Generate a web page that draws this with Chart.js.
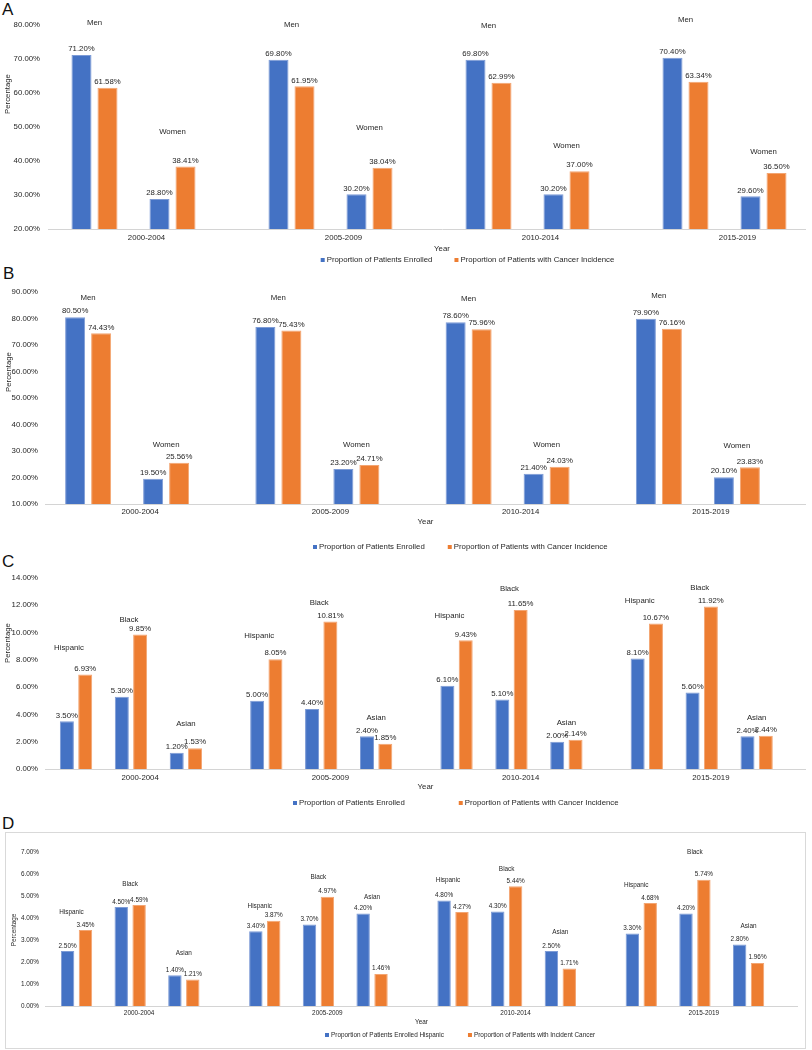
<!DOCTYPE html>
<html>
<head>
<meta charset="utf-8">
<script src="https://cdn.jsdelivr.net/npm/chart.js@4.4.1/dist/chart.umd.min.js"></script>
<style>
  html, body { margin: 0; padding: 0; background: #fff; overflow: hidden; }
  body { width: 812px; height: 1050px; position: relative; font-family: "Liberation Sans", Arial, sans-serif; }
  .panel { position: absolute; left: 0; overflow: hidden; }
  .tag { position: absolute; font-size: 17px; line-height: 17px; color: #111; }
  #frameD { position: absolute; left: 5px; top: 832px; width: 801px; height: 217px; border: 1px solid #d9d9d9; box-sizing: border-box; }
</style>
</head>
<body>
<div class="tag" style="left:2px;top:1px">A</div>
<div class="tag" style="left:3px;top:265px">B</div>
<div class="tag" style="left:2px;top:553px">C</div>
<div class="tag" style="left:2px;top:815px">D</div>
<div id="frameD"></div>

<div class="panel" style="top:0;width:806px;height:272px"><canvas id="chartA" width="836" height="272"></canvas></div>
<div class="panel" style="top:280px;width:812px;height:275px"><canvas id="chartB" width="806" height="275"></canvas></div>
<div class="panel" style="top:565px;width:812px;height:247px"><canvas id="chartC" width="806" height="247"></canvas></div>
<div class="panel" style="top:834px;width:812px;height:214px"><canvas id="chartD" width="798" height="214"></canvas></div>

<script>
// categories
const years = ["2000-2004", "2005-2009", "2010-2014", "2015-2019"];

// A - sex, all patients
const aMenEnrolled = [71.2, 69.8, 69.8, 70.4];
const aMenIncidence = [61.58, 61.95, 62.99, 63.34];
const aWomenEnrolled = [28.8, 30.2, 30.2, 29.6];
const aWomenIncidence = [38.41, 38.04, 37.0, 36.5];

// B - sex
const bMenEnrolled = [80.5, 76.8, 78.6, 79.9];
const bMenIncidence = [74.43, 75.43, 75.96, 76.16];
const bWomenEnrolled = [19.5, 23.2, 21.4, 20.1];
const bWomenIncidence = [25.56, 24.71, 24.03, 23.83];

// C - race / ethnicity
const cHispEnrolled = [3.5, 5.0, 6.1, 8.1];
const cHispIncidence = [6.93, 8.05, 9.43, 10.67];
const cBlackEnrolled = [5.3, 4.4, 5.1, 5.6];
const cBlackIncidence = [9.85, 10.81, 11.65, 11.92];
const cAsianEnrolled = [1.2, 2.4, 2.0, 2.4];
const cAsianIncidence = [1.53, 1.85, 2.14, 2.44];

// D - race / ethnicity
const dHispEnrolled = [2.5, 3.4, 4.8, 3.3];
const dHispIncidence = [3.45, 3.87, 4.27, 4.68];
const dBlackEnrolled = [4.5, 3.7, 4.3, 4.2];
const dBlackIncidence = [4.59, 4.97, 5.44, 5.74];
const dAsianEnrolled = [1.4, 4.2, 2.5, 2.8];
const dAsianIncidence = [1.21, 1.46, 1.71, 1.96];

// heights (in axis units) of the group captions
const aMenTagAt = [80.6, 80.0, 79.7, 81.5];
const aWomenTagAt = [48.5, 49.7, 44.4, 42.6];
const bMenTagAt = [87.7, 87.7, 87.6, 88.5];
const bWomenTagAt = [32.4, 32.3, 32.2, 31.9];
const cHispTagAt = [8.87, 9.75, 11.2, 12.3];
const cBlackTagAt = [10.9, 12.2, 13.2, 13.3];
const cAsianTagAt = [3.3, 3.74, 3.37, 3.74];
const dHispTagAt = [4.27, 4.55, 5.73, 5.5];
const dBlackTagAt = [5.55, 5.86, 6.23, 7.0];
const dAsianTagAt = [2.4, 4.95, 3.36, 3.64];

const BLUE = "#4472C4";
const ORANGE = "#ED7D31";
const FONT = '"Liberation Sans", Arial, sans-serif';
const INK = "#262626";
const gap = [null, null, null, null];

function bars(label, data, color, edge) {
  return { label, data, backgroundColor: color, borderColor: edge, borderWidth: 1 };
}
function spacer() {
  return { label: "", data: gap, backgroundColor: "rgba(0,0,0,0)" };
}

function makePanel(id, cfg) {
  const fs = cfg.font;

  // values above bars + group captions
  const valueLabels = {
    id: "valueLabels",
    afterDatasetsDraw(chart) {
      const ctx = chart.ctx;
      ctx.save();
      ctx.font = `${fs}px ${FONT}`;
      ctx.fillStyle = INK;
      ctx.textAlign = "center";
      ctx.textBaseline = "bottom";
      chart.data.datasets.forEach((ds, i) => {
        if (!ds.label) return;
        chart.getDatasetMeta(i).data.forEach((bar, j) => {
          const v = ds.data[j];
          if (v == null) return;
          ctx.fillText(v.toFixed(2) + "%", bar.x, bar.y - 2);
        });
      });
      ctx.textBaseline = "middle";
      const y = chart.scales.y;
      cfg.tags.forEach((t) => {
        const a = chart.getDatasetMeta(t.ds).data;
        const b = chart.getDatasetMeta(t.ds + 1).data;
        t.at.forEach((v, j) => {
          ctx.fillText(t.text, (a[j].x + b[j].x) / 2 + (t.dx || 0), y.getPixelForValue(v));
        });
      });
      ctx.restore();
    },
  };

  // legend + rotated y title, placed like the excel layout
  const extras = {
    id: "extras",
    afterDraw(chart) {
      const ctx = chart.ctx;
      ctx.save();
      ctx.font = `${fs}px ${FONT}`;
      ctx.textBaseline = "middle";
      ctx.textAlign = "left";
      let x = cfg.legend.x;
      [0, 1].forEach((i) => {
        const ds = chart.data.datasets[i];
        const text = cfg.legend.texts[i];
        ctx.fillStyle = ds.backgroundColor;
        ctx.fillRect(x, cfg.legend.y - 2, 4, 4);
        x += 6;
        ctx.fillStyle = INK;
        ctx.fillText(text, x, cfg.legend.y);
        x += ctx.measureText(text).width + cfg.legend.gap;
      });
      ctx.translate(cfg.yTitle.x, cfg.yTitle.y);
      ctx.rotate(-Math.PI / 2);
      ctx.textAlign = "center";
      ctx.fillText("Percentage", 0, 0);
      ctx.restore();
    },
  };

  return new Chart(document.getElementById(id), {
    type: "bar",
    data: { labels: years, datasets: cfg.datasets },
    options: {
      responsive: false,
      animation: false,
      devicePixelRatio: 1,
      layout: { padding: { top: cfg.padTop, left: 0, right: 0, bottom: 0 } },
      datasets: { bar: { categoryPercentage: cfg.catPct, barPercentage: cfg.barPct } },
      plugins: { legend: { display: false }, tooltip: { enabled: false } },
      scales: {
        x: {
          grid: { display: false, drawTicks: false },
          border: { display: true, color: "#d4d4d4", width: 1 },
          ticks: { padding: cfg.xPad, color: INK, font: { family: FONT, size: fs }, maxRotation: 0 },
          title: { display: true, text: "Year", color: INK, font: { family: FONT, size: fs },
                   padding: { top: 0, bottom: cfg.titlePad } },
          afterFit: (s) => { s.height = cfg.xH; },
        },
        y: {
          min: cfg.min,
          max: cfg.max,
          grid: { display: false, drawTicks: false },
          border: { display: false },
          ticks: { stepSize: cfg.step, padding: cfg.yPad, color: INK, font: { family: FONT, size: fs },
                   callback: (v) => v.toFixed(2) + "%" },
          afterFit: (s) => { s.width = cfg.yW; },
        },
      },
    },
    plugins: [valueLabels, extras],
  });
}

const lightBlue = "#7d9bd6";
const lightOrange = "#f3a572";
const enrolled = "Proportion of Patients Enrolled";
const incidence = "Proportion of Patients with Cancer Incidence";

makePanel("chartA", {
  font: 7.8, padTop: 25, xH: 43, xPad: 4, titlePad: 18, yW: 48, yPad: 8,
  min: 20, max: 80, step: 10, catPct: 0.792, barPct: 0.77,
  datasets: [
    bars(enrolled, aMenEnrolled, BLUE, lightBlue),
    bars(incidence, aMenIncidence, ORANGE, lightOrange),
    spacer(),
    bars(enrolled, aWomenEnrolled, BLUE, lightBlue),
    bars(incidence, aWomenIncidence, ORANGE, lightOrange),
    spacer(),
  ],
  tags: [{ text: "Men", ds: 0, at: aMenTagAt }, { text: "Women", ds: 3, at: aWomenTagAt }],
  legend: { x: 320.7, y: 260, gap: 22, texts: [enrolled, incidence] },
  yTitle: { x: 7.5, y: 94 },
});

makePanel("chartB", {
  font: 7.8, padTop: 12, xH: 51, xPad: 3, titlePad: 28, yW: 45, yPad: 7,
  min: 10, max: 90, step: 10, catPct: 0.82, barPct: 0.77,
  datasets: [
    bars(enrolled, bMenEnrolled, BLUE, lightBlue),
    bars(incidence, bMenIncidence, ORANGE, lightOrange),
    spacer(),
    bars(enrolled, bWomenEnrolled, BLUE, lightBlue),
    bars(incidence, bWomenIncidence, ORANGE, lightOrange),
    spacer(),
  ],
  tags: [{ text: "Men", ds: 0, at: bMenTagAt }, { text: "Women", ds: 3, at: bWomenTagAt }],
  legend: { x: 313, y: 267, gap: 23, texts: [enrolled, incidence] },
  yTitle: { x: 8.5, y: 92 },
});

makePanel("chartC", {
  font: 7.8, padTop: 13, xH: 43, xPad: 4, titlePad: 20, yW: 45, yPad: 7,
  min: 0, max: 14, step: 2, catPct: 0.866, barPct: 0.765,
  datasets: [
    bars(enrolled, cHispEnrolled, BLUE, lightBlue),
    bars(incidence, cHispIncidence, ORANGE, lightOrange),
    spacer(),
    bars(enrolled, cBlackEnrolled, BLUE, lightBlue),
    bars(incidence, cBlackIncidence, ORANGE, lightOrange),
    spacer(),
    bars(enrolled, cAsianEnrolled, BLUE, lightBlue),
    bars(incidence, cAsianIncidence, ORANGE, lightOrange),
    spacer(),
  ],
  tags: [
    { text: "Hispanic", ds: 0, at: cHispTagAt, dx: -7 },
    { text: "Black", ds: 3, at: cBlackTagAt, dx: -2 },
    { text: "Asian", ds: 6, at: cAsianTagAt },
  ],
  legend: { x: 293, y: 238, gap: 54, texts: [enrolled, incidence] },
  yTitle: { x: 7.5, y: 78 },
});

makePanel("chartD", {
  font: 6.4, padTop: 18, xH: 42, xPad: 3, titlePad: 22, yW: 45, yPad: 6,
  min: 0, max: 7, step: 1, catPct: 0.855, barPct: 0.75,
  datasets: [
    bars(enrolled, dHispEnrolled, BLUE, lightBlue),
    bars(incidence, dHispIncidence, ORANGE, lightOrange),
    spacer(),
    bars(enrolled, dBlackEnrolled, BLUE, lightBlue),
    bars(incidence, dBlackIncidence, ORANGE, lightOrange),
    spacer(),
    bars(enrolled, dAsianEnrolled, BLUE, lightBlue),
    bars(incidence, dAsianIncidence, ORANGE, lightOrange),
    spacer(),
  ],
  tags: [
    { text: "Hispanic", ds: 0, at: dHispTagAt, dx: -5 },
    { text: "Black", ds: 3, at: dBlackTagAt },
    { text: "Asian", ds: 6, at: dAsianTagAt },
  ],
  legend: { x: 325, y: 201, gap: 24,
            texts: ["Proportion of Patients Enrolled Hispanic", "Proportion of Patients with Incident Cancer"] },
  yTitle: { x: 14, y: 96 },
});
</script>
</body>
</html>
